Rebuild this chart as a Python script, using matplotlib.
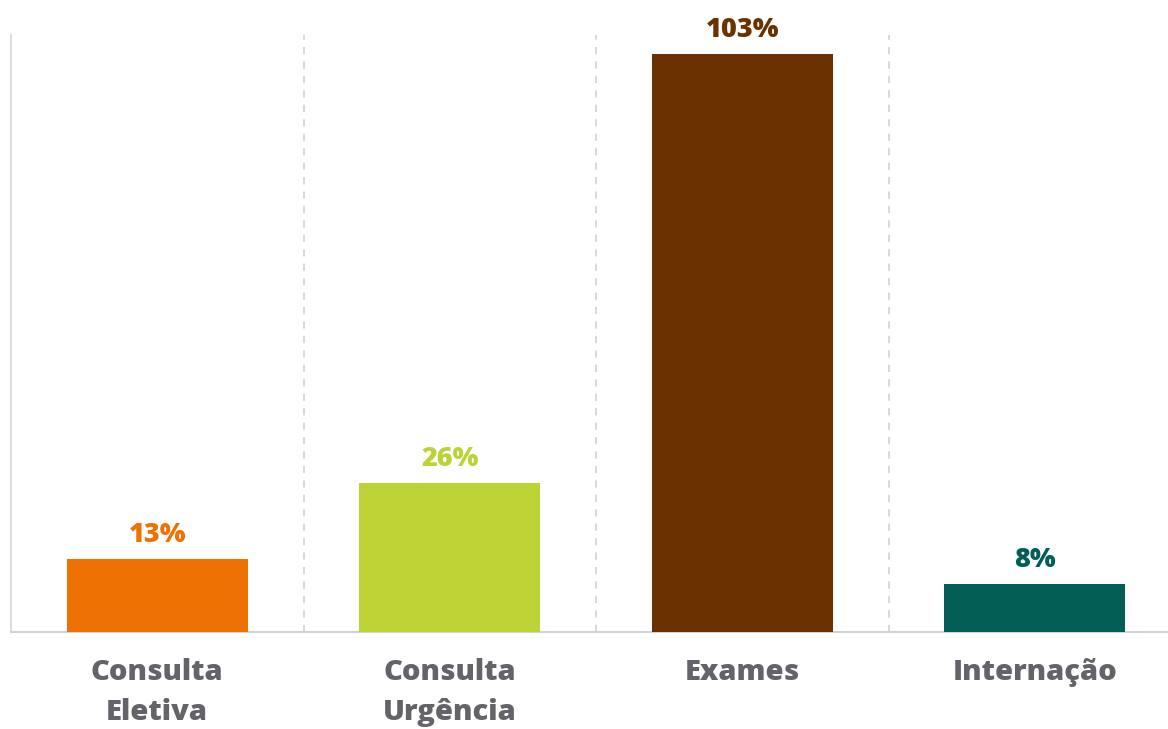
import matplotlib.pyplot as plt

# data
categories = ['Consulta\nEletiva', 'Consulta\nUrgência', 'Exames', 'Internação']
values = [13, 26.5, 103, 8.5]
value_labels = ['13%', '26%', '103%', '8%']
colors = ['#EE7203', '#BDD235', '#6B3100', '#035F55']

plt.rcParams['font.family'] = ['Open Sans', 'DejaVu Sans']

fig = plt.figure(figsize=(11.68, 7.29), dpi=100)
ax = fig.add_axes([11 / 1168, 1 - 632 / 729, 1170 / 1168, (632 - 35) / 729])

x = range(len(categories))
bars = ax.bar(x, values, width=0.62, color=colors, zorder=3)

for b, lab, c in zip(bars, value_labels, colors):
    ax.annotate(lab, (b.get_x() + b.get_width() / 2, b.get_height()),
                xytext=(0, 8), textcoords='offset points',
                ha='center', va='bottom', fontsize=19.5, fontweight='heavy', color=c)

ax.set_xlim(-0.5, 3.5)
ax.set_ylim(0, 106.4)

# dashed separators between categories
for xs in [0.5, 1.5, 2.5]:
    ax.axvline(xs, color='#D3D5D8', linestyle=(0, (4, 4)), linewidth=1.3, zorder=1)

ax.set_xticks(list(x))
ax.set_xticklabels(categories, fontsize=21, fontweight='heavy', color='#636369',
                   linespacing=1.5)
ax.tick_params(axis='x', length=0, pad=19)
ax.set_yticks([])

for s in ['top', 'right']:
    ax.spines[s].set_visible(False)
ax.spines['left'].set_color('#D8DADC')
ax.spines['left'].set_linewidth(1.3)
ax.spines['bottom'].set_color('#D0D3D6')
ax.spines['bottom'].set_linewidth(1.5)

fig.savefig('out.png', dpi=100)
